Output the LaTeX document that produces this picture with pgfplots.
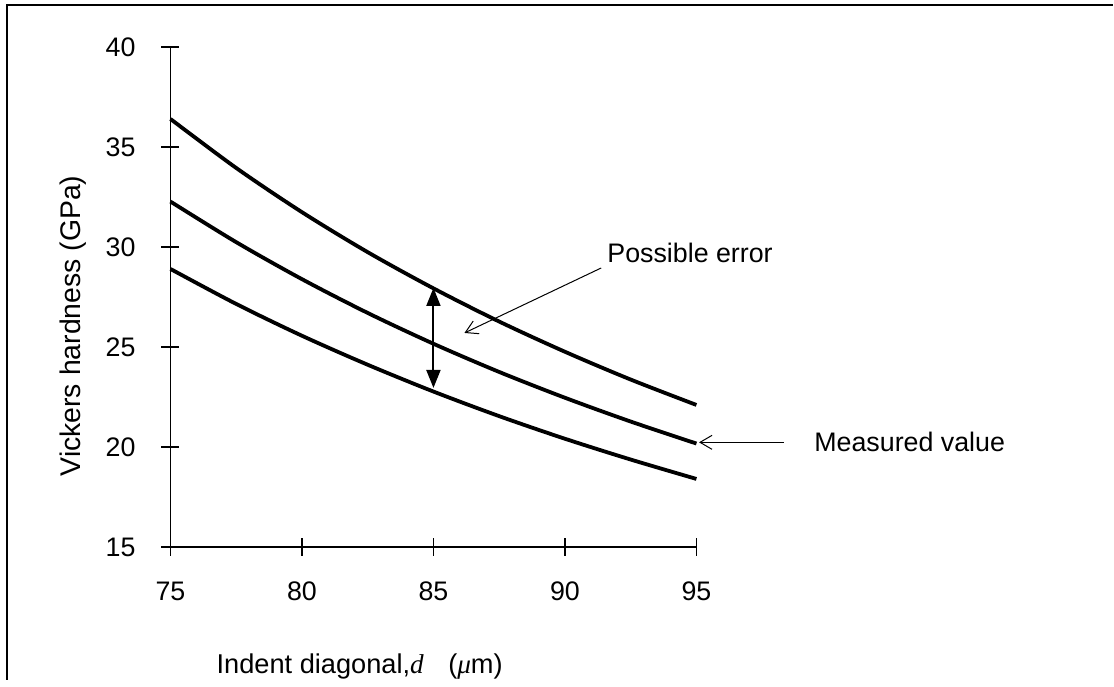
\documentclass[border=0pt]{standalone}
\usepackage{fontspec}
\setmainfont{Liberation Sans}
\newfontfamily\serifit{Liberation Serif}
\usepackage{pgfplots}
\pgfplotsset{compat=1.18}
\usetikzlibrary{arrows.meta}
\begin{document}
\begin{tikzpicture}
\begin{axis}[
  width=263bp, height=250bp, scale only axis,
  xmin=75, xmax=95, ymin=15, ymax=40,
  axis lines=left, axis line style={-, line width=0.6bp},
  xtick={75,80,...,95}, ytick={15,20,...,40},
  tick align=center, major tick length=9bp,
  tick style={black, line width=0.6bp},
  /pgf/number format/assume math mode=true,
  tick label style={font=\fontsize{13.4bp}{16bp}\selectfont},
  xticklabel style={yshift=-9.5bp},
  yticklabel style={xshift=-9.5bp},
  xlabel={Indent diagonal,{\serifit\itshape d}\hspace{0.9em}({\serifit\itshape μ}m)},
  xlabel style={at={(axis description cs:0.3597,-0.24)}, anchor=center, font=\fontsize{13.6bp}{16bp}\selectfont},
  ylabel={Vickers hardness (GPa)},
  ylabel style={at={(axis description cs:-0.1856,0.442)}, anchor=center, font=\fontsize{14.2bp}{16bp}\selectfont},
  clip=false,
]
\addplot[black, line width=1.9bp, smooth] coordinates {
(75,36.40) (77.5,33.95) (80,31.74) (82.5,29.74) (85,27.93) (87.5,26.27) (90,24.76) (92.5,23.37) (95,22.10)};
\addplot[black, line width=1.9bp, smooth] coordinates {
(75,32.27) (77.5,30.24) (80,28.39) (82.5,26.70) (85,25.16) (87.5,23.75) (90,22.46) (92.5,21.27) (95,20.17)};
\addplot[black, line width=1.9bp, smooth] coordinates {
(75,28.90) (77.5,27.15) (80,25.56) (82.5,24.11) (85,22.77) (87.5,21.54) (90,20.41) (92.5,19.37) (95,18.40)};
% double arrow for possible error
\draw[{Triangle[length=9bp,width=7bp]}-{Triangle[length=9bp,width=7bp]}, line width=1bp] (axis cs:85,27.95) -- (axis cs:85,22.95);
% annotations
\draw[-{Straight Barb[length=6bp,width=7bp]}, line width=0.5bp] (axis cs:91.38,28.95) -- (axis cs:86.18,25.70);
\node[anchor=west, inner sep=0, font=\fontsize{13.4bp}{16bp}\selectfont] at (axis cs:91.6,29.7) {Possible error};
\draw[-{Straight Barb[length=6bp,width=7bp]}, line width=0.5bp] (axis cs:98.33,20.23) -- (axis cs:95.1,20.23);
\node[anchor=west, inner sep=0, font=\fontsize{13.4bp}{16bp}\selectfont] at (axis cs:99.47,20.23) {Measured value};
% frame (top and left edges) and picture extent
\draw[line width=1.3bp] (axis cs:68.78,8.35) -- (axis cs:68.78,42.1) -- (axis cs:110.83,42.1);
\path (axis cs:68.517,8.35) coordinate (bl) (axis cs:110.83,42.35) coordinate (tr);
\end{axis}
\path (bl) rectangle (tr);
\end{tikzpicture}
\end{document}
